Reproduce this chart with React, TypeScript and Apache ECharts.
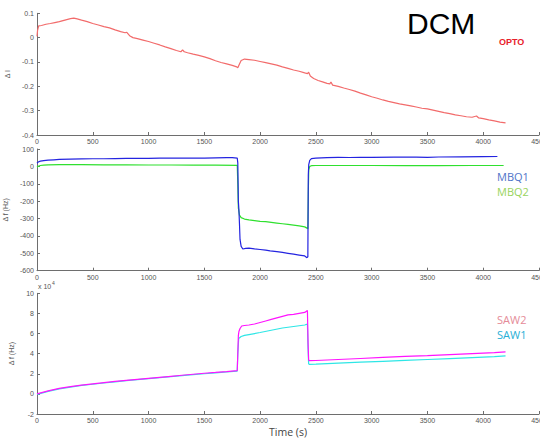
import React, { useEffect, useRef } from "react";
import * as echarts from "echarts";

// Optical signal (ΔI) vs time (s)
const optoData: [number, number][] = [
  [0, 0.005], [5, 0.03], [15, 0.048], [40, 0.05], [80, 0.055], [120, 0.058], [160, 0.062],
  [200, 0.066], [250, 0.072], [300, 0.078], [330, 0.08], [360, 0.077], [400, 0.072],
  [450, 0.066], [500, 0.058], [550, 0.052], [600, 0.045], [650, 0.04], [700, 0.032],
  [750, 0.025], [790, 0.02], [805, 0.022], [830, 0.008], [860, 0.0], [900, -0.004],
  [950, -0.01], [1000, -0.016], [1050, -0.023], [1100, -0.03], [1150, -0.038], [1200, -0.045],
  [1250, -0.053], [1290, -0.058], [1305, -0.05], [1320, -0.058], [1350, -0.062], [1400, -0.068],
  [1450, -0.073], [1500, -0.079], [1550, -0.086], [1600, -0.095], [1650, -0.102], [1700, -0.108],
  [1750, -0.114], [1790, -0.12], [1800, -0.124], [1815, -0.108], [1830, -0.094], [1860, -0.088],
  [1900, -0.09], [1950, -0.093], [2000, -0.098], [2050, -0.103], [2100, -0.108], [2150, -0.113],
  [2200, -0.12], [2250, -0.126], [2300, -0.133], [2350, -0.138], [2400, -0.145], [2425, -0.148],
  [2435, -0.142], [2450, -0.158], [2480, -0.168], [2520, -0.176], [2560, -0.182], [2600, -0.188],
  [2625, -0.19], [2635, -0.182], [2650, -0.195], [2700, -0.2], [2750, -0.207], [2800, -0.213],
  [2850, -0.22], [2900, -0.228], [2950, -0.235], [3000, -0.243], [3050, -0.249], [3100, -0.256],
  [3150, -0.262], [3200, -0.267], [3250, -0.272], [3300, -0.276], [3350, -0.28], [3400, -0.285],
  [3450, -0.29], [3500, -0.293], [3550, -0.298], [3600, -0.303], [3650, -0.308], [3700, -0.312],
  [3750, -0.317], [3800, -0.321], [3850, -0.325], [3900, -0.327], [3940, -0.322], [3960, -0.33],
  [4000, -0.333], [4050, -0.338], [4100, -0.342], [4150, -0.347], [4200, -0.35],
];

// MBQ resonators, Δf (Hz)
const mbq1Data: [number, number][] = [
  [0, 18], [10, 25], [30, 30], [60, 33], [100, 36], [150, 38], [200, 40], [300, 42], [400, 43],
  [500, 44], [600, 44], [700, 45], [800, 46], [900, 46], [1000, 46], [1100, 47], [1200, 47],
  [1300, 48], [1400, 48], [1500, 48], [1600, 49], [1700, 50], [1750, 50], [1795, 48], [1800, 20],
  [1805, -200], [1810, -250], [1815, -330], [1820, -420], [1830, -460], [1845, -475], [1870, -472],
  [1900, -470], [1950, -475], [2000, -478], [2050, -482], [2090, -486], [2150, -490], [2200, -495],
  [2250, -500], [2300, -505], [2350, -510], [2400, -515], [2420, -525], [2428, -520], [2432, -50],
  [2436, 10], [2445, 35], [2460, 45], [2500, 48], [2600, 50], [2700, 52], [2800, 51], [2900, 52],
  [3000, 52], [3200, 53], [3400, 53], [3500, 52], [3600, 54], [3800, 55], [4000, 56], [4127, 57],
];

const mbq2Data: [number, number][] = [
  [0, -5], [10, 0], [30, 5], [60, 7], [100, 9], [200, 10], [400, 10], [600, 9], [800, 9],
  [1000, 8], [1200, 8], [1400, 7], [1600, 7], [1795, 6], [1800, -100], [1805, -240], [1815, -280],
  [1830, -295], [1860, -303], [1900, -308], [1950, -312], [2000, -316], [2050, -318], [2100, -322],
  [2150, -326], [2200, -330], [2250, -334], [2300, -338], [2350, -342], [2400, -348], [2428, -358],
  [2432, -150], [2436, -20], [2445, 0], [2460, 4], [2500, 5], [2700, 5], [3000, 5], [3300, 4],
  [3600, 4], [3900, 5], [4183, 5],
];

// SAW resonators, Δf in units of 10^4 Hz
const saw1Data: [number, number][] = [
  [0, -0.05], [50, 0.1], [100, 0.25], [200, 0.5], [300, 0.68], [400, 0.84], [500, 0.96],
  [600, 1.08], [700, 1.2], [800, 1.31], [900, 1.41], [1000, 1.51], [1100, 1.61], [1200, 1.71],
  [1300, 1.81], [1400, 1.91], [1500, 2.0], [1600, 2.09], [1700, 2.18], [1795, 2.27], [1800, 4.0],
  [1808, 5.5], [1830, 5.7], [1860, 5.82], [1900, 5.9], [2000, 6.1], [2100, 6.33], [2200, 6.55],
  [2300, 6.7], [2400, 6.85], [2424, 6.95], [2430, 4.5], [2435, 3.0], [2440, 2.93], [2500, 2.95],
  [2700, 3.05], [2900, 3.15], [3100, 3.24], [3300, 3.33], [3500, 3.42], [3700, 3.51],
  [3900, 3.6], [4100, 3.7], [4200, 3.77],
];

const saw2Data: [number, number][] = [
  [0, 0], [50, 0.15], [100, 0.3], [200, 0.55], [300, 0.72], [400, 0.88], [500, 1.0], [600, 1.12],
  [700, 1.24], [800, 1.35], [900, 1.45], [1000, 1.55], [1100, 1.65], [1200, 1.75], [1300, 1.85],
  [1400, 1.95], [1500, 2.05], [1600, 2.13], [1700, 2.22], [1795, 2.32], [1800, 4.0], [1805, 5.8],
  [1810, 6.2], [1820, 6.5], [1835, 6.75], [1860, 6.8], [1900, 6.85], [1950, 6.95], [2000, 7.1],
  [2050, 7.25], [2100, 7.4], [2150, 7.55], [2200, 7.7], [2250, 7.85], [2300, 7.9], [2350, 8.0],
  [2400, 8.1], [2424, 8.3], [2430, 5.0], [2435, 3.4], [2440, 3.3], [2500, 3.32], [2700, 3.42],
  [2900, 3.52], [3100, 3.62], [3300, 3.72], [3500, 3.8], [3700, 3.9], [3900, 4.0], [4100, 4.1],
  [4200, 4.17],
];

const AXIS_COLOR = "#6e6e6e";
const LABEL_COLOR = "#555555";
const FONT = "Liberation Sans, Arial, sans-serif";
const LEGEND_FONT = "Open Sans, sans-serif";

const grids = [
  { left: 37, top: 13.3, width: 502, height: 121.7, outerBoundsMode: "none" },
  { left: 37, top: 149, width: 502, height: 121.7, outerBoundsMode: "none" },
  { left: 37, top: 293.3, width: 502, height: 120.7, outerBoundsMode: "none" },
];

function xAxisFor(gridIndex: number, name?: string) {
  return {
    type: "value",
    gridIndex,
    min: 0,
    max: 4500,
    interval: 500,
    name,
    nameLocation: "middle",
    nameGap: 12,
    nameTextStyle: { color: "#444444", fontSize: 10.5, fontFamily: LEGEND_FONT },
    axisLine: { show: true, onZero: false, lineStyle: { color: AXIS_COLOR, width: 1 } },
    axisTick: { show: true, inside: true, length: 3, lineStyle: { color: AXIS_COLOR } },
    axisLabel: {
      color: LABEL_COLOR,
      fontSize: 7,
      margin: 3,
      fontFamily: FONT,
      alignMinLabel: "center",
      alignMaxLabel: "center",
      formatter: (v: number) => String(Math.round(v)),
    },
    splitLine: { show: false },
  };
}

function yAxisFor(
  gridIndex: number,
  min: number,
  max: number,
  interval: number,
  name: string,
  fmt: (v: number) => string
) {
  return {
    type: "value",
    gridIndex,
    min,
    max,
    interval,
    name,
    nameLocation: "middle",
    nameGap: 16,
    nameTextStyle: { color: LABEL_COLOR, fontSize: 7, fontFamily: FONT },
    axisLine: { show: true, onZero: false, lineStyle: { color: AXIS_COLOR, width: 1 } },
    axisTick: { show: true, inside: true, length: 3, lineStyle: { color: AXIS_COLOR } },
    axisLabel: { color: LABEL_COLOR, fontSize: 7, margin: 3, fontFamily: FONT, formatter: fmt },
    splitLine: { show: false },
  };
}

function lineSeries(name: string, data: [number, number][], color: string, idx: number) {
  return {
    type: "line",
    name,
    data,
    xAxisIndex: idx,
    yAxisIndex: idx,
    showSymbol: false,
    symbol: "none",
    lineStyle: { color, width: 1.2 },
    itemStyle: { color },
  };
}

function legendText(text: string, top: number, color: string) {
  return {
    type: "text",
    left: 497,
    top,
    style: { text, fontSize: 11, fill: color, fontFamily: LEGEND_FONT },
  };
}

export default function App() {
  const ref = useRef<HTMLDivElement>(null);

  useEffect(() => {
    if (!ref.current) return;
    const chart = echarts.init(ref.current, undefined, { renderer: "svg" });
    chart.setOption({
      animation: false,
      backgroundColor: "#ffffff",
      grid: grids,
      xAxis: [xAxisFor(0), xAxisFor(1), xAxisFor(2, "Time (s)")],
      yAxis: [
        yAxisFor(0, -0.4, 0.1, 0.1, "Δ I", (v) => String(Math.round(v * 10) / 10)),
        yAxisFor(1, -600, 100, 100, "Δ f (Hz)", (v) => String(Math.round(v))),
        yAxisFor(2, -2, 10, 2, "Δ f (Hz)", (v) => String(Math.round(v))),
      ],
      series: [
        lineSeries("OPTO", optoData, "#f26b6b", 0),
        lineSeries("MBQ2", mbq2Data, "#2fe02f", 1),
        lineSeries("MBQ1", mbq1Data, "#2424e0", 1),
        lineSeries("SAW1", saw1Data, "#2ee6e6", 2),
        lineSeries("SAW2", saw2Data, "#ff14ff", 2),
      ],
      graphic: [
        {
          type: "text",
          left: 407,
          top: 8,
          style: { text: "DCM", fontSize: 30, fill: "#000000", fontFamily: FONT },
        },
        {
          type: "text",
          left: 499,
          top: 37,
          style: { text: "OPTO", fontSize: 9, fontWeight: "bold", fill: "#e8202a", fontFamily: FONT },
        },
        legendText("MBQ1", 171, "#4f74c8"),
        legendText("MBQ2", 186, "#98d35c"),
        legendText("SAW2", 314, "#e58b98"),
        legendText("SAW1", 329, "#27afd6"),
        {
          type: "text",
          left: 38,
          top: 283,
          style: { text: "x 10", fontSize: 7, fill: LABEL_COLOR, fontFamily: FONT },
        },
        {
          type: "text",
          left: 52,
          top: 280,
          style: { text: "4", fontSize: 5, fill: LABEL_COLOR, fontFamily: FONT },
        },
      ],
    });
    return () => chart.dispose();
  }, []);

  return (
    <div
      ref={ref}
      style={{ position: "fixed", left: 0, top: 0, width: 540, height: 438, background: "#fff" }}
    />
  );
}
